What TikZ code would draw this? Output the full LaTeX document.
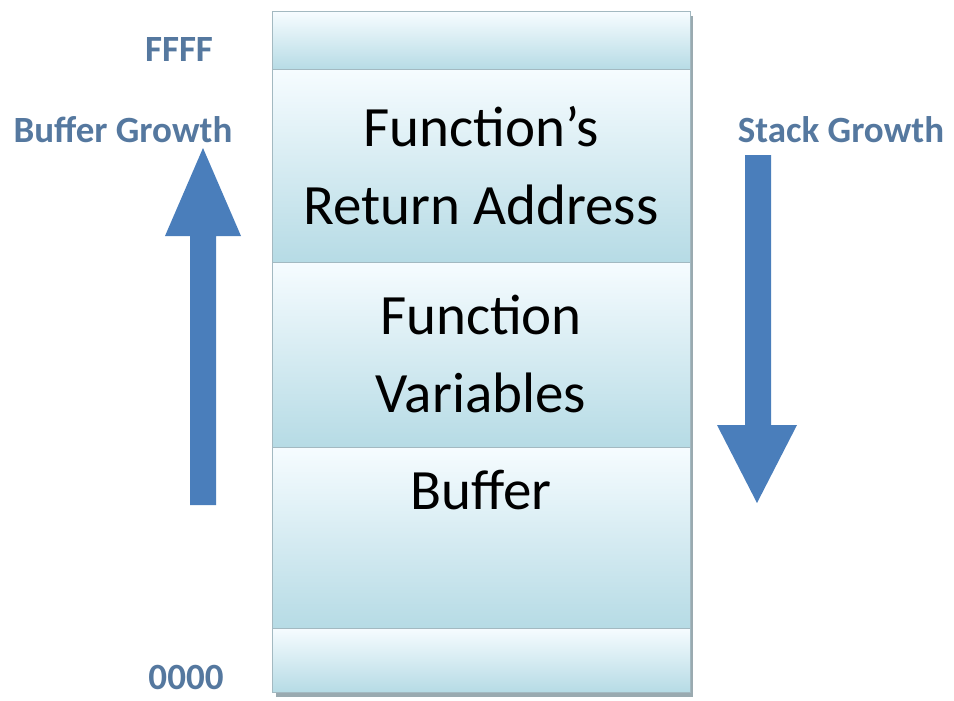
\documentclass[tikz,border=0pt]{standalone}
\usepackage{fontspec}
\setmainfont{Carlito}
\usetikzlibrary{positioning}

\definecolor{cellhi}{HTML}{F6FCFF}
\definecolor{celllo}{HTML}{B6DBE5}
\definecolor{cellline}{HTML}{A3B9C1}
\definecolor{shadowcol}{HTML}{9AAAB0}
\definecolor{arrowcol}{HTML}{4A7EBB}
\definecolor{labcol}{HTML}{55789F}

\begin{document}
\begin{tikzpicture}[
	x=1pt, y=-1pt,
	cell/.style={
		draw=cellline, line width=1pt,
		top color=cellhi, middle color=cellhi!80!celllo, bottom color=celllo,
		minimum width=418pt,
		inner sep=0pt, outer sep=0pt,
		align=center,
		font=\fontsize{57}{78}\selectfont
	},
	celltext/.style={
		font=\fontsize{57}{78}\selectfont
	},
	lab/.style={
		text=labcol, inner sep=1pt,
		font=\fontsize{37}{42}\selectfont\bfseries
	},
	growth/.style={
		fill=arrowcol
	}
	]
	
	\useasboundingbox (0,0) rectangle (954,701);
	
	% shadow of the stack
	\fill[shadowcol] (276,16) rectangle (693,697);
	
	\node[cell, minimum height=58pt]  (cap)  at (481,41) {};
	\node[cell, minimum height=192pt, below=0pt of cap] (ret) {Function’s\\Return Address};
	\node[cell, minimum height=185pt, below=0pt of ret] (var) {Function\\Variables};
	\node[cell, minimum height=181pt, below=0pt of var] (buf) {};
	\node[cell, minimum height=64pt,  below=0pt of buf] (base) {};
	
	\node[celltext] (buftext) at (481,490) {Buffer};
	
	\node[lab] (ffff)    at (179,50)  {FFFF};
	\node[lab] (zero)    at (186,677) {0000};
	\node[lab] (bufgrow) at (123,130) {Buffer Growth};
	\node[lab] (stkgrow) at (841,130) {Stack Growth};
	
	% growth arrows
	\fill[growth] (190,505) -- (190,236) -- (165,236) -- (203,148)
		-- (241,236) -- (216,236) -- (216,505) -- cycle;
	\fill[growth] (745,155) -- (745,425) -- (717,425) -- (757,503)
		-- (797,425) -- (771,425) -- (771,155) -- cycle;
	
\end{tikzpicture}
\end{document}
